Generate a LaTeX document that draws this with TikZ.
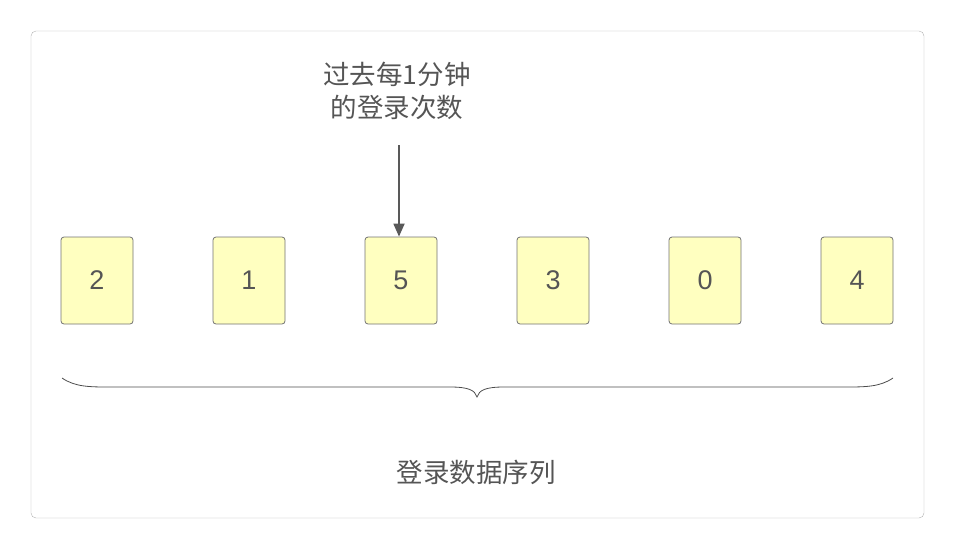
\documentclass[tikz,border=0pt]{standalone}
\usepackage{fontspec}
\setmainfont{Liberation Sans}
\newfontfamily\cjk{Noto Sans CJK SC}
\usetikzlibrary{arrows.meta}
\definecolor{txt}{HTML}{555555}
\definecolor{cellfill}{HTML}{FFFFC0}
\tikzset{cell/.style={draw=black!55,line width=0.8pt,fill=cellfill,rounded corners=3pt,minimum width=72pt,minimum height=87pt,inner sep=0pt,font=\fontsize{27}{30}\selectfont,text=txt}}
\begin{document}
\begin{tikzpicture}[x=1pt,y=-1pt]
\useasboundingbox (0,0) rectangle (955,549);
\draw[black!30,rounded corners=5pt] (31,31) rectangle (924,518);
\foreach \v/\x [count=\i] in {2/97,1/249,5/401,3/553,0/705,4/857}
  \node[cell] (c\i) at (\x,280.5) {\v};
\node[align=center,text=txt,font=\cjk\fontsize{26.5}{33}\selectfont] (lab) at (397,91) {过去每1分钟\\的登录次数};
\coordinate (a0) at (399,145);
\draw[-{Triangle[length=13pt,width=11pt]},line width=1.8pt,draw=black!65] (a0) -- (c3.north -| a0) ;
\draw[black!70,line width=0.8pt] (62,378) .. controls (75,387) and (90,387) .. (110,387) -- (450,387) .. controls (468,387) and (475,390) .. (477,397)
  .. controls (479,390) and (486,387) .. (504,387) -- (845,387) .. controls (865,387) and (880,387) .. (893,378);
\node[text=txt,font=\cjk\fontsize{26.5}{30}\selectfont] (seq) at (476,472) {登录数据序列};
\end{tikzpicture}
\end{document}
